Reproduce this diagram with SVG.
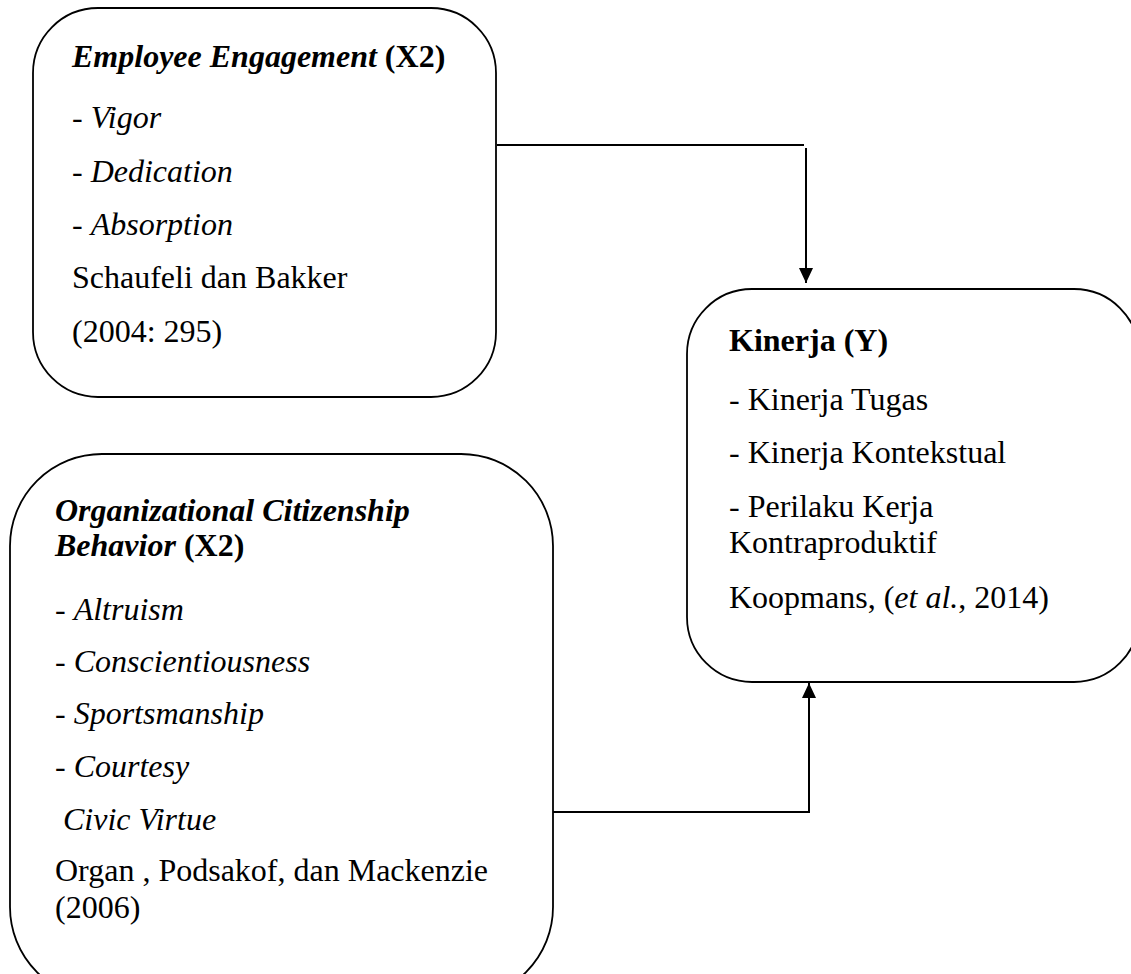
<svg xmlns="http://www.w3.org/2000/svg" width="1131" height="974" viewBox="0 0 1131 974">
<style>
.box{fill:#fff;stroke:#000;stroke-width:1.8}
.t{font-family:"Liberation Serif","Times New Roman",serif;font-size:32px;fill:#000}
.b{font-weight:bold}
.i{font-style:italic}
.con{fill:none;stroke:#000;stroke-width:2}
</style>
<defs>
<marker id="ah" viewBox="0 0 15 14" refX="15" refY="7" markerWidth="15" markerHeight="14" markerUnits="userSpaceOnUse" orient="auto">
<path d="M0,0 L15,7 L0,14 Z" fill="#000"/>
</marker>
</defs>
<g id="connectors">
<path class="con" d="M497,145 H804"/>
<path class="con" d="M806,148 V283" marker-end="url(#ah)"/>
<path class="con" d="M553,812 H809 V683" marker-end="url(#ah)"/>
</g>
<g id="node-ee">
<rect class="box" x="33" y="8" width="463" height="389" rx="65" ry="65"/>
<text class="t" x="72" y="67"><tspan class="b i">Employee Engagement</tspan><tspan class="b"> (X2)</tspan></text>
<text class="t" x="72" y="128">- <tspan class="i">Vigor</tspan></text>
<text class="t" x="72" y="182">- <tspan class="i">Dedication</tspan></text>
<text class="t" x="72" y="235">- <tspan class="i">Absorption</tspan></text>
<text class="t" x="72" y="288">Schaufeli dan Bakker</text>
<text class="t" x="72" y="342">(2004: 295)</text>
</g>
<g id="node-ocb">
<rect class="box" x="10" y="454" width="543" height="545" rx="92" ry="92"/>
<text class="t" x="55" y="521"><tspan class="b i">Organizational Citizenship</tspan></text>
<text class="t" x="55" y="556"><tspan class="b i">Behavior</tspan><tspan class="b"> (X2)</tspan></text>
<text class="t" x="55" y="620">- <tspan class="i">Altruism</tspan></text>
<text class="t" x="55" y="672">- <tspan class="i">Conscientiousness</tspan></text>
<text class="t" x="55" y="724">- <tspan class="i">Sportsmanship</tspan></text>
<text class="t" x="55" y="777">- <tspan class="i">Courtesy</tspan></text>
<text class="t i" x="63" y="830">Civic Virtue</text>
<text class="t" x="55" y="881">Organ , Podsakof, dan Mackenzie</text>
<text class="t" x="55" y="918">(2006)</text>
</g>
<g id="node-kinerja">
<rect class="box" x="687" y="289" width="452" height="393" rx="65" ry="65"/>
<text class="t b" x="729" y="351">Kinerja (Y)</text>
<text class="t" x="729" y="410">- Kinerja Tugas</text>
<text class="t" x="729" y="463">- Kinerja Kontekstual</text>
<text class="t" x="729" y="517">- Perilaku Kerja</text>
<text class="t" x="729" y="553">Kontraproduktif</text>
<text class="t" x="729" y="608">Koopmans, (<tspan class="i">et al.</tspan>, 2014)</text>
</g>
</svg>
